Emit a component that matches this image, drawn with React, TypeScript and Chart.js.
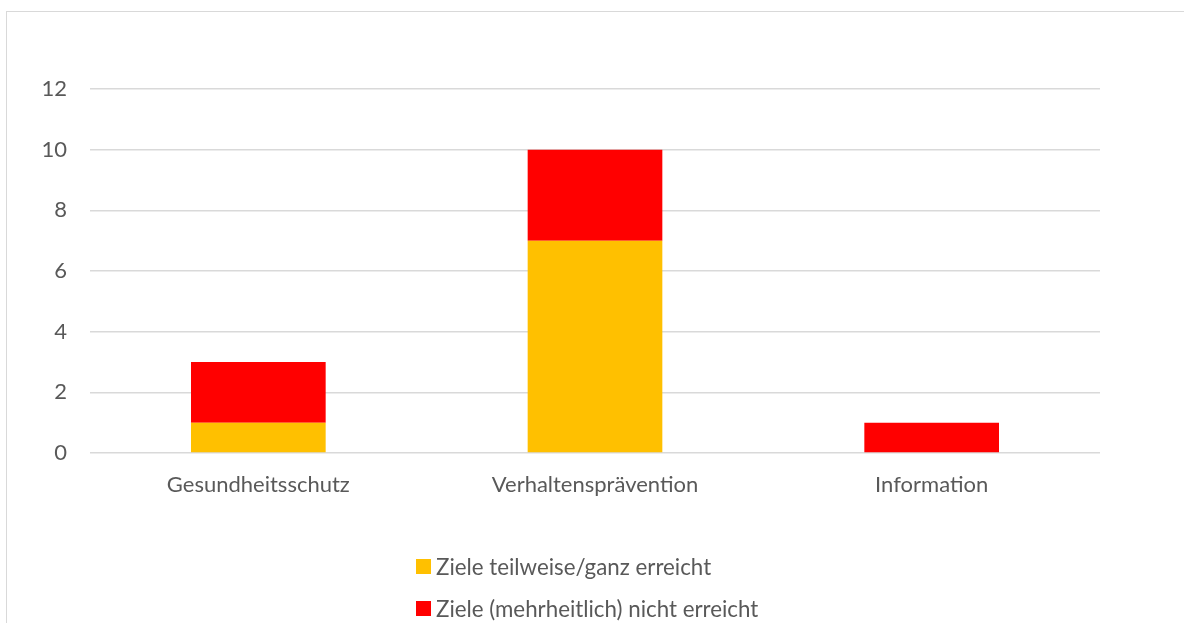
import React, { useEffect, useRef } from "react";
import { Chart, registerables } from "chart.js";

Chart.register(...registerables);

const categories = ["Gesundheitsschutz", "Verhaltensprävention", "Information"];
const reachedValues = [1, 7, 0];
const notReachedValues = [2, 3, 1];
const seriesLabels = ["Ziele teilweise/ganz erreicht", "Ziele (mehrheitlich) nicht erreicht"];
const seriesColors = ["#FFC000", "#FF0000"];
const yTicks = [0, 2, 4, 6, 8, 10, 12];

const FONT = "Lato, 'Open Sans', sans-serif";
const TEXT = "#595959";

export default function App() {
  const ref = useRef<HTMLCanvasElement | null>(null);

  useEffect(() => {
    if (!ref.current) return;
    const chart = new Chart(ref.current, {
      type: "bar",
      data: {
        labels: categories,
        datasets: [
          { label: seriesLabels[0], data: reachedValues, backgroundColor: seriesColors[0], barPercentage: 0.4, categoryPercentage: 1 },
          { label: seriesLabels[1], data: notReachedValues, backgroundColor: seriesColors[1], barPercentage: 0.4, categoryPercentage: 1 },
        ],
      },
      options: {
        responsive: false,
        animation: false,
        layout: { padding: { left: 0, right: 84, top: 89, bottom: 0 } },
        plugins: { legend: { display: false }, tooltip: { enabled: false } },
        scales: {
          x: {
            stacked: true,
            grid: { display: false },
            border: { display: false },
            ticks: { color: TEXT, font: { family: FONT, size: 22 }, padding: 11 },
            afterFit: (s: any) => { s.height = 170; },
          },
          y: {
            stacked: true,
            min: 0,
            max: 12,
            afterBuildTicks: (s: any) => { s.ticks = yTicks.map((v) => ({ value: v })); },
            grid: { color: "#D9D9D9", lineWidth: 1.5, drawTicks: false },
            border: { display: false },
            ticks: { color: TEXT, font: { family: FONT, size: 22 }, padding: 23 },
            afterFit: (s: any) => { s.width = 90; },
          },
        },
      },
    });
    return () => chart.destroy();
  }, []);

  return (
    <div style={{ position: "fixed", left: 0, top: 0, width: 1184, height: 623, background: "#fff", overflow: "hidden" }}>
      <div style={{ position: "absolute", left: 6, top: 11, width: 1300, height: 800, border: "1.5px solid #D9D9D9", boxSizing: "border-box" }} />
      <canvas ref={ref} width={1184} height={623} style={{ position: "absolute", left: 0, top: 0 }} />
      {seriesLabels.map((l, i) => (
        <div key={l} style={{ position: "absolute", left: 416, top: 552 + i * 42, height: 28, display: "flex", alignItems: "center", fontFamily: FONT, fontSize: 22.3, color: TEXT, whiteSpace: "nowrap" }}>
          <span style={{ display: "inline-block", width: 15, height: 15, background: seriesColors[i], marginRight: 5 }} />
          {l}
        </div>
      ))}
    </div>
  );
}
